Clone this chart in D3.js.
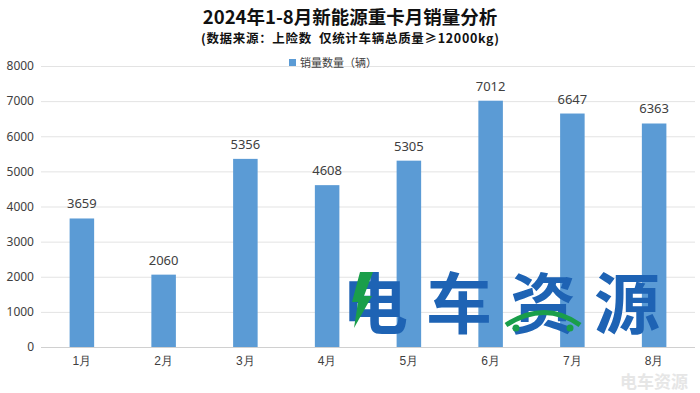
<!DOCTYPE html>
<html><head><meta charset="utf-8">
<script src="https://cdn.jsdelivr.net/npm/d3@7/dist/d3.min.js"></script>
<style>
body{margin:0;background:#fff;}
svg{display:block;font-family:"Noto Sans CJK SC","Noto Sans",sans-serif;}
</style></head>
<body><svg id="c" width="700" height="393"></svg>
<script>
const categories = ["1月","2月","3月","4月","5月","6月","7月","8月"];
const values = [3659,2060,5356,4608,5305,7012,6647,6363];
const yTicks = [0,1000,2000,3000,4000,5000,6000,7000,8000];
const title = "2024年1-8月新能源重卡月销量分析";
const subtitle = "(数据来源：上险数  仅统计车辆总质量≥12000kg)";
const seriesName = "销量数量（辆）";

const svg = d3.select("#c");
const m = {left:41, right:695, top:66, bottom:347};
const x = d3.scaleBand().domain(categories).range([m.left, m.right]).paddingInner(0.7).paddingOuter(0.35);
const y = d3.scaleLinear().domain([0,8000]).range([m.bottom, m.top]);

// gridlines
svg.append("g").selectAll("line").data(yTicks).join("line")
  .attr("x1", m.left).attr("x2", m.right)
  .attr("y1", d=>y(d)+0.5).attr("y2", d=>y(d)+0.5)
  .attr("stroke", d=> d===0 ? "#d0d0d0" : "#e3e3e3").attr("stroke-width",1);

// y axis labels
const yAxis = d3.axisLeft(y).tickValues(yTicks).tickSize(0).tickPadding(0).tickFormat(d3.format("d"));
const ya = svg.append("g").attr("transform",`translate(34,0)`).call(yAxis);
ya.select(".domain").remove();
ya.selectAll("text").attr("fill","#404040").style("font-size","12px").style("font-family","'Noto Sans','DejaVu Sans',sans-serif");

// x axis labels
const xAxis = d3.axisBottom(x).tickSize(0).tickPadding(0);
const xa = svg.append("g").attr("transform",`translate(0,${m.bottom+9})`).call(xAxis);
xa.select(".domain").remove();
xa.selectAll("text").attr("fill","#404040").style("font-size","12px");

// bars
svg.append("g").selectAll("rect").data(values).join("rect")
  .attr("x",(d,i)=>x(categories[i])).attr("width",x.bandwidth())
  .attr("y",d=>y(d)).attr("height",d=>y(0)-y(d))
  .attr("fill","#5B9BD5");

// value labels
svg.append("g").selectAll("text").data(values).join("text")
  .attr("x",(d,i)=>x(categories[i])+x.bandwidth()/2).attr("y",d=>y(d)-10)
  .attr("text-anchor","middle").attr("fill","#404040")
  .style("font-size","13px").style("font-family","'Noto Sans','DejaVu Sans',sans-serif")
  .text(d=>d);

// title
svg.append("text").attr("x",350).attr("y",24).attr("text-anchor","middle")
  .attr("fill","#111").style("font-size","18.5px").style("font-weight","bold").text(title);
svg.append("text").attr("x",350).attr("y",43).attr("text-anchor","middle")
  .attr("fill","#111").style("font-size","12.5px").style("font-weight","bold")
  .style("white-space","pre").attr("textLength",298).attr("lengthAdjust","spacing").text(subtitle);

// legend
svg.append("rect").attr("x",289).attr("y",59).attr("width",7).attr("height",7).attr("fill","#5B9BD5");
svg.append("text").attr("x",300).attr("y",66.5).attr("fill","#404040").style("font-size","11px").text(seriesName);

// watermark logo
const wm = svg.append("g");
wm.append("text").attr("x",501).attr("y",328).attr("text-anchor","middle")
  .attr("fill","#1E63B4").style("font-size","66px").style("font-weight","bold")
  .attr("textLength",318).attr("lengthAdjust","spacing").text("电车资源");
wm.append("path").attr("d","M360 272 L373 272 L364 296 L372 296 L354 328 L358 302 L352 302 Z").attr("fill","#1A9E4A");
wm.append("path").attr("d","M506 325 Q545 300 580 325").attr("fill","none").attr("stroke","#1A9E4A").attr("stroke-width",5);
wm.append("circle").attr("cx",516).attr("cy",328).attr("r",3.5).attr("fill","#1A9E4A");
wm.append("circle").attr("cx",570).attr("cy",328).attr("r",3.5).attr("fill","#1A9E4A");

// bottom-right watermark
svg.append("text").attr("x",654).attr("y",388).attr("text-anchor","middle")
  .attr("fill","#e6e6e6").style("font-size","17px").style("font-weight","bold").text("电车资源");
</script></body></html>
